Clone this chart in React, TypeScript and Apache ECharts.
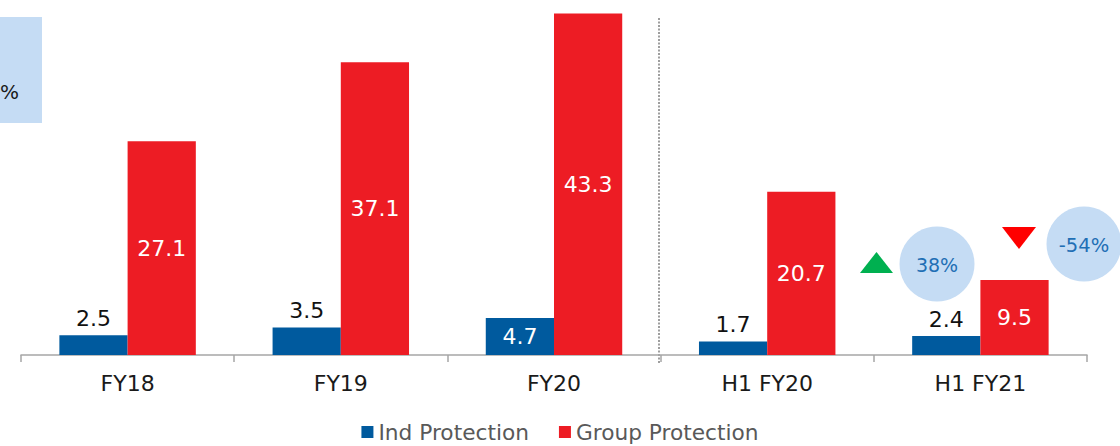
import React, { useEffect, useRef } from "react";
import * as echarts from "echarts";

const categories = ["FY18", "FY19", "FY20", "H1 FY20", "H1 FY21"];
const indProtection = [2.5, 3.5, 4.7, 1.7, 2.4];
const groupProtection = [27.1, 37.1, 43.3, 20.7, 9.5];
const seriesNames = ["Ind Protection", "Group Protection"];
const growthLabels = ["38%", "-54%"];
const boxLabel = "%";

const FONT = "'DejaVu Sans', Verdana, sans-serif";
const BLUE = "#005A9E";
const RED = "#ED1C24";
const LIGHT = "#C5DCF4";

export default function App() {
  const ref = useRef<HTMLDivElement>(null);
  useEffect(() => {
    if (!ref.current) return;
    const chart = echarts.init(ref.current, undefined, { renderer: "svg" });
    chart.setOption({
      animation: false,
      textStyle: { fontFamily: FONT },
      grid: { left: 21, right: 33, top: 0, bottom: 91 },
      legend: {
        top: 420,
        left: "center",
        padding: 0,
        itemWidth: 12,
        itemHeight: 12,
        itemGap: 30,
        icon: "rect",
        textStyle: { fontFamily: FONT, fontSize: 21.7, color: "#595959", lineHeight: 24 },
        data: seriesNames,
      },
      xAxis: {
        type: "category",
        data: categories,
        axisLine: { lineStyle: { color: "#A6A6A6", width: 1.5 } },
        axisTick: { show: true, length: 7, lineStyle: { color: "#A6A6A6", width: 1.5 } },
        axisLabel: { fontFamily: FONT, fontSize: 22, color: "#1a1a1a", margin: 17 },
      },
      yAxis: {
        type: "value",
        min: 0,
        max: 45,
        show: false,
        splitLine: { show: false },
      },
      series: [
        {
          name: seriesNames[0],
          type: "bar",
          barGap: "0%",
          barCategoryGap: "36%",
          itemStyle: { color: BLUE },
          data: indProtection.map((v, i) =>
            i === 2
              ? { value: v, label: { position: "inside", color: "#ffffff" } }
              : { value: v }
          ),
          label: {
            show: true,
            position: "top",
            distance: 6,
            fontFamily: FONT,
            fontSize: 22,
            color: "#111111",
          },
        },
        {
          name: seriesNames[1],
          type: "bar",
          itemStyle: { color: RED },
          data: groupProtection,
          label: {
            show: true,
            position: "inside",
            fontFamily: FONT,
            fontSize: 22,
            color: "#ffffff",
          },
        },
      ],
      graphic: [
        { type: "rect", shape: { x: 0, y: 17, width: 42, height: 106 }, style: { fill: LIGHT } },
        {
          type: "text",
          x: 0,
          y: 92,
          style: { text: boxLabel, fill: "#1a1a1a", font: `20px ${FONT}`, textAlign: "left", textVerticalAlign: "middle" },
        },
        {
          type: "line",
          shape: { x1: 659, y1: 18, x2: 659, y2: 363 },
          style: { stroke: "#7F7F7F", lineWidth: 1.5, lineDash: [2, 1.5] },
        },
        { type: "circle", shape: { cx: 937, cy: 264, r: 37.5 }, style: { fill: LIGHT } },
        {
          type: "text",
          x: 937,
          y: 265,
          style: { text: growthLabels[0], fill: "#1F6FB5", font: `19px ${FONT}`, textAlign: "center", textVerticalAlign: "middle" },
        },
        { type: "circle", shape: { cx: 1084, cy: 244, r: 37.5 }, style: { fill: LIGHT } },
        {
          type: "text",
          x: 1084,
          y: 245,
          style: { text: growthLabels[1], fill: "#1F6FB5", font: `19.5px ${FONT}`, textAlign: "center", textVerticalAlign: "middle" },
        },
        {
          type: "polygon",
          shape: { points: [[860, 273], [893, 273], [876.5, 252]] },
          style: { fill: "#00B050" },
        },
        {
          type: "polygon",
          shape: { points: [[1002, 227], [1036, 227], [1019, 249]] },
          style: { fill: "#FF0000" },
        },
      ],
    });
    return () => chart.dispose();
  }, []);
  return (
    <div
      ref={ref}
      style={{ position: "fixed", left: 0, top: 0, width: 1120, height: 446, background: "#ffffff" }}
    />
  );
}
